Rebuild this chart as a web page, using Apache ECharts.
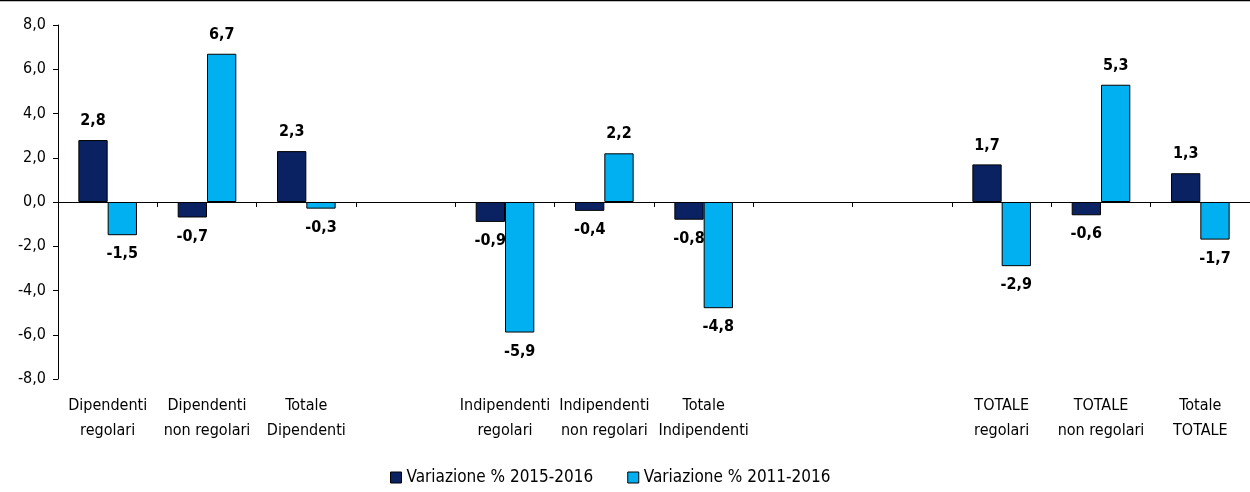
<!DOCTYPE html>
<html><head><meta charset="utf-8">
<script src="https://cdn.jsdelivr.net/npm/echarts@6/dist/echarts.min.js"></script>
<style>html,body{margin:0;padding:0;background:#fff}#c{width:1250px;height:492px}</style>
</head><body><div id="c"></div>
<script>
const categories = ['Dipendenti\nregolari','Dipendenti\nnon regolari','Totale\nDipendenti','',
  'Indipendenti\nregolari','Indipendenti\nnon regolari','Totale\nIndipendenti','','',
  'TOTALE\nregolari','TOTALE\nnon regolari','Totale\nTOTALE'];
const seriesNames = ['Variazione % 2015-2016','Variazione % 2011-2016'];
const var1516 = [2.8,-0.7,2.3,null,-0.9,-0.4,-0.8,null,null,1.7,-0.6,1.3];
const var1116 = [-1.5,6.7,-0.3,null,-5.9,2.2,-4.8,null,null,-2.9,5.3,-1.7];
const yTicks = {min:-8, max:8, interval:2};

const FONT = '"DejaVu Sans Condensed","Liberation Sans",Arial,sans-serif';
const fmt = v => v.toFixed(1).replace('.', ',');
function mk(name, data, color){
  return {
    name, type:'bar', xAxisIndex:0, data: data.map(v => v===null ? null : {value:v, label:{position: v>=0?'top':'bottom'}}),
    barGap:'0%', barCategoryGap:'41%',
    itemStyle:{color, borderColor:'#000', borderWidth:1},
    label:{show:true, distance:11, fontFamily:FONT, fontWeight:'bold', fontSize:16, color:'#000',
      formatter:p=>fmt(p.value)}
  };
}
const chart = echarts.init(document.getElementById('c'));
chart.setOption({
  animation:false,
  textStyle:{fontFamily:FONT},
  grid:{left:58, right:0, top:25, bottom:113, outerBoundsMode:'none', containLabel:false},
  legend:{bottom:1, left:385, itemWidth:11, itemHeight:11, itemGap:34,
    icon:'rect', textStyle:{fontFamily:FONT, fontSize:17, color:'#000'},
    itemStyle:{borderColor:'#000', borderWidth:1}},
  xAxis:[{type:'category', data:categories, position:'bottom',
    axisLine:{onZero:true, lineStyle:{color:'#000', width:1}},
    axisTick:{show:true, length:5, lineStyle:{color:'#000'}},
    axisLabel:{show:false}
  },{type:'category', data:categories, position:'bottom',
    axisLine:{show:false, onZero:false},
    axisTick:{show:false},
    axisLabel:{show:true, interval:0, fontFamily:FONT, fontSize:16, color:'#000', lineHeight:25, margin:14}
  }],
  yAxis:{type:'value', min:yTicks.min, max:yTicks.max, interval:yTicks.interval,
    axisLine:{show:true, lineStyle:{color:'#000'}},
    axisTick:{show:true, length:5, lineStyle:{color:'#000'}},
    splitLine:{show:false},
    axisLabel:{fontFamily:FONT, fontSize:16, color:'#000', margin:12, formatter:fmt}
  },
  graphic:[{type:'line', shape:{x1:0,y1:0.5,x2:1250,y2:0.5}, style:{stroke:'#000', lineWidth:1.5}}],
  series:[mk(seriesNames[0], var1516, '#0b2262'), mk(seriesNames[1], var1116, '#00b0f0')]
});
</script></body></html>
